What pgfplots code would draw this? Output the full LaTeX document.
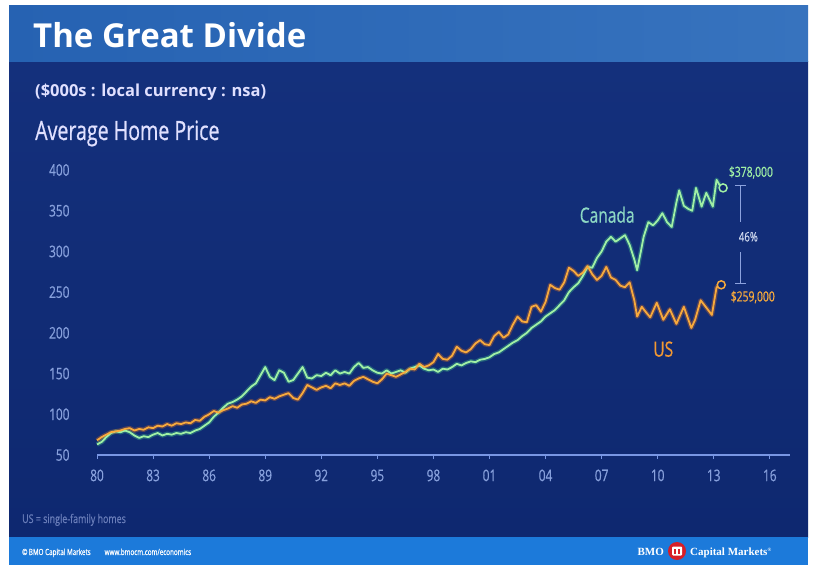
\documentclass[border=0pt]{standalone}
\usepackage{pgfplots}
\pgfplotsset{compat=1.18}
\usepackage{pgfplotstable}
\usepackage{fontspec}
\setmainfont{Open Sans}
\newfontfamily\condfont[FakeStretch=0.74, FakeBold=0.6]{Open Sans}
\newfontfamily\serifb{Liberation Serif}

\definecolor{navy}{RGB}{14,40,112}
\definecolor{navytop}{RGB}{20,48,124}
\definecolor{header}{RGB}{38,98,178}
\definecolor{headerR}{RGB}{55,115,190}
\definecolor{footer}{RGB}{28,122,218}
\definecolor{ticklab}{RGB}{135,160,220}
\definecolor{axisblue}{RGB}{120,150,228}
\definecolor{cagreen}{RGB}{160,240,165}
\definecolor{caglow}{RGB}{70,200,140}
\definecolor{usorange}{RGB}{248,170,60}
\definecolor{usglow}{RGB}{230,115,30}
\definecolor{catext}{RGB}{140,215,195}
\definecolor{ustext}{RGB}{242,152,50}
\definecolor{pctext}{RGB}{205,215,238}
\definecolor{bracket}{RGB}{140,162,222}
\definecolor{notetext}{RGB}{105,125,185}
\definecolor{bmored}{RGB}{215,30,40}

\pgfplotstableread{
x y
1980.00 63
1980.25 66
1980.50 72
1980.75 77
1981.00 79
1981.25 78
1981.50 80
1981.75 78
1982.00 74
1982.25 71
1982.50 73
1982.75 72
1983.00 75
1983.25 77
1983.50 74
1983.75 76
1984.00 75
1984.25 77
1984.50 76
1984.75 78
1985.00 77
1985.25 80
1985.50 82
1985.75 86
1986.00 90
1986.25 97
1986.50 102
1986.75 108
1987.00 113
1987.25 115
1987.50 118
1987.75 122
1988.00 128
1988.25 134
1988.50 138
1988.75 148
1989.00 158
1989.25 146
1989.50 142
1989.75 154
1990.00 151
1990.25 140
1990.50 142
1990.75 150
1991.00 158
1991.25 145
1991.50 144
1991.75 148
1992.00 147
1992.25 151
1992.50 148
1992.75 154
1993.00 150
1993.25 152
1993.50 150
1993.75 158
1994.00 163
1994.25 157
1994.50 158
1994.75 154
1995.00 151
1995.25 150
1995.50 154
1995.75 150
1996.00 152
1996.25 154
1996.50 151
1996.75 156
1997.00 158
1997.25 160
1997.50 156
1997.75 154
1998.00 155
1998.25 152
1998.50 156
1998.75 155
1999.00 158
1999.25 162
1999.50 160
1999.75 163
2000.00 165
2000.25 164
2000.50 167
2000.75 168
2001.00 170
2001.25 174
2001.50 176
2001.75 180
2002.00 184
2002.25 188
2002.50 191
2002.75 196
2003.00 200
2003.25 206
2003.50 210
2003.75 214
2004.00 220
2004.25 224
2004.50 228
2004.75 234
2005.00 240
2005.25 250
2005.50 256
2005.75 261
2006.00 270
2006.25 281
2006.50 280
2006.75 292
2007.00 300
2007.25 312
2007.50 318
2007.75 312
2008.00 316
2008.25 320
2008.50 308
2008.75 290
2008.90 277
2009.10 300
2009.25 318
2009.50 336
2009.75 332
2010.00 338
2010.25 347
2010.50 336
2010.75 330
2011.00 360
2011.15 375
2011.40 356
2011.65 352
2011.85 350
2012.05 378
2012.35 355
2012.60 372
2012.95 355
2013.15 388
2013.35 380
2013.50 378
}\canada

\pgfplotstableread{
x y
1980.00 68
1980.25 72
1980.50 75
1980.75 78
1981.00 79
1981.25 80
1981.50 82
1981.75 83
1982.00 80
1982.25 82
1982.50 81
1982.75 84
1983.00 83
1983.25 86
1983.50 85
1983.75 88
1984.00 86
1984.25 89
1984.50 88
1984.75 90
1985.00 89
1985.25 93
1985.50 92
1985.75 97
1986.00 100
1986.25 104
1986.50 102
1986.75 105
1987.00 107
1987.25 110
1987.50 108
1987.75 112
1988.00 113
1988.25 116
1988.50 114
1988.75 118
1989.00 117
1989.25 121
1989.50 119
1989.75 122
1990.00 124
1990.25 126
1990.50 120
1990.75 118
1991.00 126
1991.25 136
1991.50 133
1991.75 130
1992.00 133
1992.25 135
1992.50 132
1992.75 138
1993.00 136
1993.25 138
1993.50 135
1993.75 141
1994.00 144
1994.25 146
1994.50 143
1994.75 140
1995.00 138
1995.25 143
1995.50 150
1995.75 148
1996.00 146
1996.25 149
1996.50 152
1996.75 156
1997.00 155
1997.25 162
1997.50 158
1997.75 160
1998.00 164
1998.25 174
1998.50 168
1998.75 167
1999.00 172
1999.25 183
1999.50 178
1999.75 176
2000.00 180
2000.25 187
2000.50 191
2000.75 186
2001.00 185
2001.25 196
2001.50 201
2001.75 194
2002.00 198
2002.25 210
2002.50 220
2002.75 214
2003.00 213
2003.25 232
2003.50 234
2003.75 226
2004.00 238
2004.25 259
2004.50 255
2004.75 253
2005.00 262
2005.25 280
2005.50 276
2005.75 270
2006.00 274
2006.25 282
2006.50 272
2006.75 265
2007.00 270
2007.25 281
2007.50 268
2007.75 265
2008.00 258
2008.25 256
2008.50 262
2008.75 240
2008.90 220
2009.15 232
2009.35 226
2009.60 219
2009.95 237
2010.30 216
2010.65 229
2011.00 211
2011.40 232
2011.80 206
2012.00 216
2012.30 240
2012.60 231
2012.90 222
2013.15 256
2013.40 259
}\us

\begin{document}
\begin{tikzpicture}[x=1pt,y=1pt]
\useasboundingbox (0,0) rectangle (814,571);
\fill[white] (0,0) rectangle (814,571);
% body
\shade[top color=navytop, bottom color=navy] (9,34) rectangle (808,509);
% header
\shade[left color=header, right color=headerR] (9,509) rectangle (808,565);
% footer
\fill[footer] (9,6) rectangle (808,34);

% titles
\node[anchor=base west, inner sep=0, text=white, font=\fontsize{33}{38}\selectfont\bfseries] at (33,523) {The Great Divide};
\node[anchor=base west, inner sep=0, text=white!88!blue, font=\fontsize{16.5}{20}\selectfont\bfseries] at (35,474) {(\$000s : local currency : nsa)};
\node[anchor=base west, inner sep=0, text=white!88!blue, font=\condfont\fontsize{26.5}{30}\selectfont] at (35,431) {Average Home Price};
\node[anchor=base west, inner sep=0, text=notetext, font=\condfont\fontsize{12}{14}\selectfont] at (22,48) {US = single-family homes};
% footer texts
\node[anchor=base west, inner sep=0, text=white, font=\condfont\fontsize{8.5}{10}\selectfont] at (22,16) {\textcopyright\,BMO Capital Markets\hspace{14pt}www.bmocm.com/economics};
\node[anchor=base east, inner sep=0, text=white, font=\serifb\fontsize{11}{13}\selectfont\bfseries] at (664,16) {BMO};
\fill[bmored] (677,20) circle (9);
\fill[white, rounded corners=1pt] (672,15.5) rectangle (682,24.5);
\fill[bmored] (674,17) rectangle (676,22);
\fill[bmored] (678,17) rectangle (680,22);
\node[anchor=base west, inner sep=0, text=white, font=\serifb\fontsize{11}{13}\selectfont\bfseries] at (690,16) {Capital Markets\textsuperscript{\tiny\textregistered}};

\begin{axis}[
  at={(97pt,116pt)}, anchor=south west,
  scale only axis, width=693pt, height=285pt,
  xmin=1980, xmax=2017.08, ymin=50, ymax=400,
  clip=false,
  axis x line*=bottom, axis y line*=left,
  x axis line style={draw=axisblue, line width=1.3pt, -},
  y axis line style={draw=none},
  xtick={1980,1983,...,2016},
  xticklabels={80,83,86,89,92,95,98,01,04,07,10,13,16},
  ytick={50,100,...,400},
  tick align=outside,
  major tick length=4pt,
  xtick style={draw=axisblue, line width=0.8pt},
  ytick style={draw=none},
  /pgf/number format/assume math mode=true,
  ticklabel style={text=ticklab, font=\condfont\fontsize{16}{18}\selectfont},
  xticklabel style={yshift=-7pt},
  yticklabel style={xshift=-20pt},
]
\addplot[caglow, line width=4.5pt, opacity=0.35, line join=round] table {\canada};
\addplot[usglow, line width=4.5pt, opacity=0.35, line join=round] table {\us};
\addplot[cagreen, line width=1.8pt, line join=round] table {\canada};
\addplot[usorange, line width=1.8pt, line join=round] table {\us};
\addplot[only marks, mark=*, mark size=4pt, mark options={fill=navy, draw=cagreen, line width=1.5pt}] coordinates {(2013.5,378)};
\addplot[only marks, mark=*, mark size=4pt, mark options={fill=navy, draw=usorange, line width=1.5pt}] coordinates {(2013.4,259)};

\node[anchor=center, text=catext, font=\condfont\fontsize{21}{24}\selectfont] at (axis cs:2007.3,345) {Canada};
\node[anchor=center, text=ustext, font=\condfont\fontsize{21}{24}\selectfont] at (axis cs:2010.3,180) {US};
\node[anchor=west, inner sep=0, text=cagreen, font=\condfont\fontsize{14}{15}\selectfont] at (axis cs:2013.8,397) {\$378,000};
\node[anchor=west, inner sep=0, text=usorange, font=\condfont\fontsize{14}{15}\selectfont] at (axis cs:2013.9,244) {\$259,000};
\node[anchor=center, text=pctext, font=\condfont\fontsize{13}{14}\selectfont] at (axis cs:2014.85,318) {46\%};
\draw[bracket, line width=1pt] (axis cs:2014.15,381.5) -- (axis cs:2014.75,381.5);
\draw[bracket, line width=1pt] (axis cs:2014.45,381.5) -- (axis cs:2014.45,336);
\draw[bracket, line width=1pt] (axis cs:2014.45,299) -- (axis cs:2014.45,261);
\draw[bracket, line width=1pt] (axis cs:2014.15,261) -- (axis cs:2014.75,261);
\end{axis}
\end{tikzpicture}
\end{document}
